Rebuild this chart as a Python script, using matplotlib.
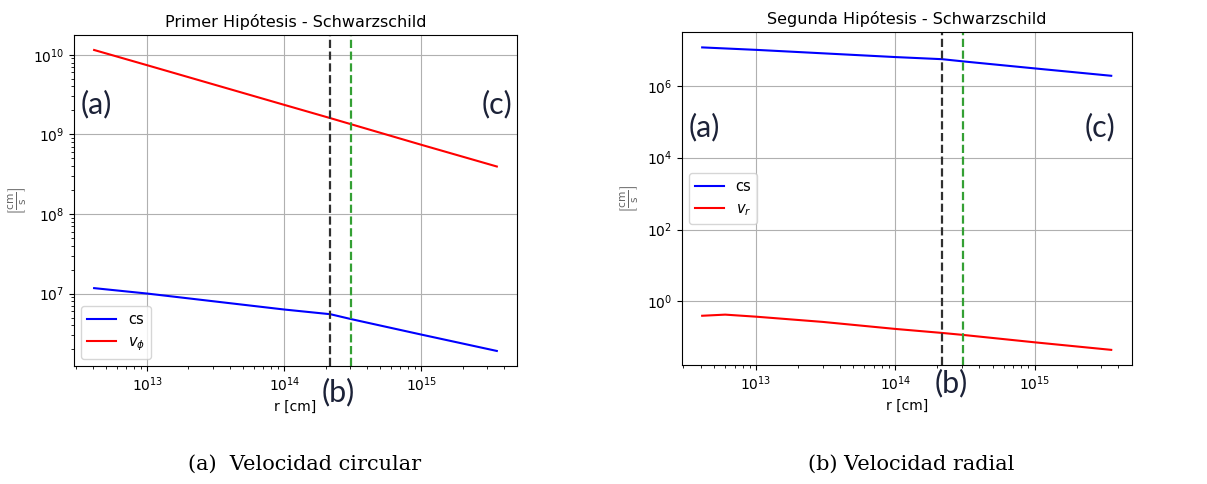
import matplotlib
matplotlib.use("Agg")
import matplotlib.pyplot as plt
from matplotlib.ticker import NullLocator

# radius [cm]
r = [4.1e12, 1.0e13, 1.0e14, 2.17e14, 3.08e14, 1.0e15, 3.55e15]
# sound speed (same in both panels)
cs = [1.17e7, 1.0e7, 6.3e6, 5.5e6, 4.77e6, 3.05e6, 1.9e6]
# circular velocity
v_phi = [1.15e10, 7.4e9, 2.35e9, 1.6e9, 1.34e9, 7.4e8, 3.95e8]

# radial velocity (read at more points, slight hump near the start)
r_vr = [4.1e12, 6.0e12, 1.0e13, 3.0e13, 1.0e14, 2.17e14, 3.08e14, 1.0e15, 3.55e15]
v_r = [0.40, 0.43, 0.377, 0.27, 0.172, 0.133, 0.117, 0.073, 0.045]
vr_ticks = [1e0, 1e2, 1e4, 1e6]

r_b = 2.17e14   # black dashed
r_g = 3.08e14   # green dashed

fig = plt.figure(figsize=(12.07, 4.84), dpi=100)
ax1 = fig.add_axes([0.0613, 0.2438, 0.367, 0.684])
ax2 = fig.add_axes([0.5648, 0.2459, 0.3728, 0.6874])

ylab = r'$\left[\frac{\rm cm}{\rm s}\right]$'
note = dict(fontsize=22, color='#1c2238', family=['Lato', 'DejaVu Sans'])

#Primer hipotesis
ax1.plot(r, cs, color='b', lw=1.5, label='cs')
ax1.plot(r, v_phi, color='r', lw=1.5, label=r'$v_\phi$')
ax1.axvline(r_b, color='#303030', ls='--', lw=1.6)
ax1.axvline(r_g, color='#34a034', ls='--', lw=1.6)
ax1.set_xscale('log')
ax1.set_yscale('log')
ax1.grid(True)
ax1.legend(loc='lower left', fontsize=10.5)
ax1.set_title('Primer Hipótesis - Schwarzschild', fontsize=11.5)
ax1.set_xlabel('r [cm]', fontsize=10)
ax1.set_ylabel(ylab, fontsize=11, color='#666666')
ax1.yaxis.set_label_coords(-0.104, 0.5)
ax1.text(0.05, 0.79, '(a)', transform=ax1.transAxes, ha='center', va='center', **note)
ax1.text(0.955, 0.79, '(c)', transform=ax1.transAxes, ha='center', va='center', **note)
ax1.text(0.597, -0.08, '(b)', transform=ax1.transAxes, ha='center', va='center', **note)

#Segunda hipotesis
ax2.plot(r, cs, color='b', lw=1.5, label='cs')
ax2.plot(r_vr, v_r, color='r', lw=1.5, label=r'$v_r$')
ax2.axvline(r_b, color='#303030', ls='--', lw=1.6)
ax2.axvline(r_g, color='#34a034', ls='--', lw=1.6)
ax2.set_xscale('log')
ax2.set_yscale('log')
ax2.set_yticks(vr_ticks)
ax2.yaxis.set_minor_locator(NullLocator())
ax2.grid(True)
ax2.legend(loc='center left', fontsize=10.5)
ax2.set_title('Segunda Hipótesis - Schwarzschild', fontsize=11.5)
ax2.set_xlabel('r [cm]', fontsize=10)
ax2.set_ylabel(ylab, fontsize=11, color='#666666')
ax2.yaxis.set_label_coords(-0.093, 0.5)
ax2.text(0.05, 0.715, '(a)', transform=ax2.transAxes, ha='center', va='center', **note)
ax2.text(0.93, 0.715, '(c)', transform=ax2.transAxes, ha='center', va='center', **note)
ax2.text(0.6, -0.055, '(b)', transform=ax2.transAxes, ha='center', va='center', **note)

for ax in (ax1, ax2):
    ax.tick_params(labelsize=10)

#captions
fig.text(0.252, 0.04, '(a)  Velocidad circular', ha='center', va='center',
         fontsize=15, family='DejaVu Serif')
fig.text(0.755, 0.04, '(b) Velocidad radial', ha='center', va='center',
         fontsize=15, family='DejaVu Serif')

fig.savefig('out.png', dpi=100)
